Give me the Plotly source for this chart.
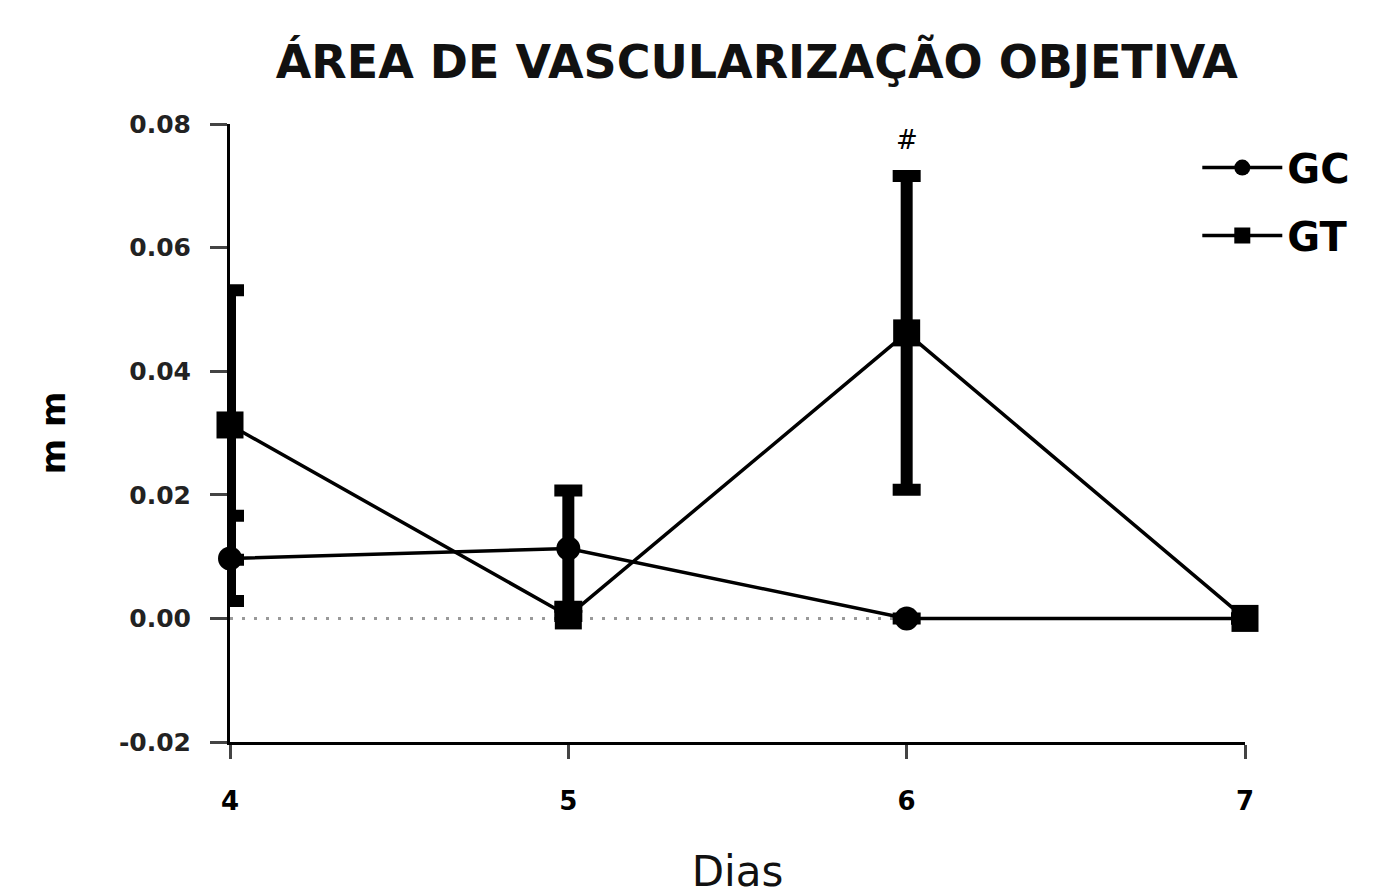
import plotly.graph_objects as go

dias = [4, 5, 6, 7]
gc_mean = [0.0097, 0.0113, 0.0, 0.0]
gc_err = [0.0069, 0.0094, 0.0, 0.0]
gt_mean = [0.0313, 0.0004, 0.0462, 0.0]
gt_err = [0.0218, 0.0, 0.0254, 0.0]

y_ticks = [-0.02, 0.0, 0.02, 0.04, 0.06, 0.08]
y_ticktext = ["-0.02", "0.00", "0.02", "0.04", "0.06", "0.08"]
x_ticks = [4, 5, 6, 7]

fig = go.Figure()
fig.add_trace(go.Scatter(
    x=dias, y=gc_mean, name="GC", mode="lines+markers",
    line=dict(color="black", width=3.5),
    marker=dict(symbol="circle", size=24, color="black"),
    error_y=dict(type="data", array=gc_err, visible=True, color="black", thickness=12, width=14),
    cliponaxis=False, legendgroup="gc",
))
fig.add_trace(go.Scatter(
    x=dias, y=gt_mean, name="GT", mode="lines+markers",
    line=dict(color="black", width=3.5),
    marker=dict(symbol="square", size=27, color="black"),
    error_y=dict(type="data", array=gt_err, visible=True, color="black", thickness=12, width=14),
    cliponaxis=False, legendgroup="gt",
))

fig.add_shape(type="line", xref="x", yref="y", x0=4, x1=7, y0=0, y1=0,
              line=dict(color="#999999", width=3, dash="3px,9px"), layer="below")

fig.add_annotation(x=6, y=gt_mean[2] + gt_err[2], xref="x", yref="y", text="#",
                   showarrow=False, yshift=36, font=dict(family="DejaVu Sans", size=26, color="black"))

fig.update_layout(
    width=1369, height=888,
    paper_bgcolor="white", plot_bgcolor="white",
    margin=dict(l=222, r=132, t=116, b=154),
    title=dict(text="<b>ÁREA DE VASCULARIZAÇÃO OBJETIVA</b>", x=0.547, xanchor="center", y=0.939, yanchor="middle",
               font=dict(family="DejaVu Sans", size=46, color="#111111")),
    showlegend=True,
    legend=dict(x=0.953, y=0.982, xanchor="left", yanchor="top", bgcolor="rgba(0,0,0,0)",
                font=dict(family="DejaVu Sans", size=40, color="black", weight="bold"),
                tracegroupgap=13, itemsizing="trace", itemwidth=80),
    xaxis=dict(range=[4, 7], tickvals=x_ticks, ticks="outside", ticklen=14, tickwidth=3, automargin=False,
               showline=True, linecolor="black", linewidth=3, showgrid=False, zeroline=False,
               ticklabelstandoff=20,
               tickfont=dict(family="DejaVu Sans", size=26, color="black", weight="bold"),
               title=dict(text="Dias", font=dict(family="DejaVu Sans", size=42, color="#111111"), standoff=45)),
    yaxis=dict(range=[-0.02, 0.08], tickvals=y_ticks, ticktext=y_ticktext, ticks="outside", ticklen=17, tickwidth=3,
               automargin=False, showline=True, linecolor="black", linewidth=3, showgrid=False, zeroline=False,
               ticklabelstandoff=14,
               tickfont=dict(family="DejaVu Sans", size=25, color="#222222", weight="bold"),
               title=dict(text="m m", font=dict(family="DejaVu Sans", size=34, color="black", weight="bold"), standoff=44)),
)

fig.write_html("out.html")
